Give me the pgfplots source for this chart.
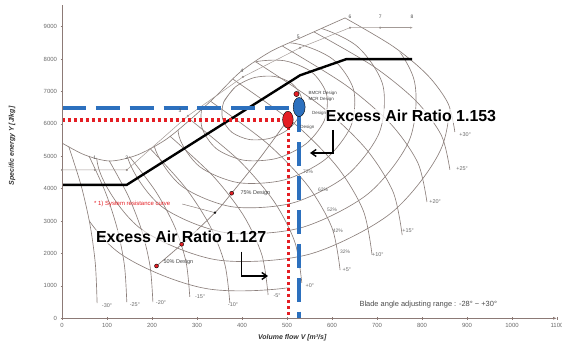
\documentclass[border=0pt]{standalone}
\usepackage{pgfplots}
\pgfplotsset{compat=1.18}
\usepackage{fontspec}
\setmainfont{Liberation Sans}
\usetikzlibrary{arrows.meta}
\definecolor{cgray}{RGB}{140,128,124}
\definecolor{axgray}{RGB}{140,122,118}
\definecolor{myred}{RGB}{228,30,36}
\definecolor{myblue}{RGB}{44,112,190}
\definecolor{tgray}{RGB}{105,105,105}
\begin{document}
\begin{tikzpicture}
\begin{axis}[
  scale only axis, width=495bp, height=313.3bp,
  xmin=0, xmax=1100, ymin=0, ymax=9670,
  axis x line=bottom, axis y line=left,
  axis line style={axgray, line width=0.8pt},
  x axis line style={-{Latex[length=4pt,width=3pt]}},
  y axis line style={-},
  xtick={0,100,...,1100}, ytick={0,1000,...,9000},
  tick style={axgray, line width=0.6pt},
  major tick length=3pt,
  ticklabel style={font=\fontsize{6}{7}\selectfont, text=tgray},
  /pgf/number format/assume math mode=true,
  /pgf/number format/1000 sep={},
  scaled ticks=false,
  xlabel={Volume flow V [m³/s]},
  ylabel={Specific energy Y [J/kg]},
  xlabel style={font=\fontsize{7}{8}\selectfont\bfseries\itshape, text=black!80, at={(axis description cs:0.465,-0.063)}, anchor=center},
  ylabel style={font=\fontsize{7}{8}\selectfont\bfseries\itshape, text=black!80, at={(axis description cs:-0.101,0.55)}, anchor=center},
  axis on top,
]
% efficiency contours
\addplot[cgray, line width=0.65pt, smooth] coordinates {(26.0,7000) (160.2,9426) (378.4,10948) (622.0,11148) (825.5,9976) (934.9,7747) (920.6,5056) (786.4,2630) (568.2,1108) (324.6,908) (121.1,2080) (11.7,4309) (26.0,7000) (160.2,9426)};
\addplot[cgray, line width=0.65pt, smooth] coordinates {(92.8,6921) (205.5,8959) (388.8,10238) (593.4,10406) (764.3,9421) (856.2,7549) (844.2,5289) (731.5,3251) (548.2,1972) (343.6,1804) (172.7,2789) (80.8,4661) (92.8,6921) (205.5,8959)};
\addplot[cgray, line width=0.65pt, smooth] coordinates {(155.1,6853) (247.7,8527) (398.2,9577) (566.3,9715) (706.7,8906) (782.2,7368) (772.3,5511) (679.7,3837) (529.2,2787) (361.1,2649) (220.7,3458) (145.2,4996) (155.1,6853) (247.7,8527)};
\addplot[cgray, line width=0.65pt, smooth] coordinates {(212.9,6795) (286.7,8129) (406.7,8966) (540.7,9076) (652.6,8431) (712.8,7205) (704.9,5725) (631.1,4391) (511.1,3554) (377.1,3444) (265.2,4089) (205.0,5315) (212.9,6795) (286.7,8129)};
\addplot[cgray, line width=0.65pt, smooth] coordinates {(266.1,6745) (322.5,7764) (414.1,8403) (516.5,8487) (601.9,7995) (647.9,7059) (641.9,5929) (585.5,4910) (493.9,4271) (391.5,4187) (306.1,4679) (260.1,5615) (266.1,6745) (322.5,7764)};
\addplot[cgray, line width=0.65pt, smooth] coordinates {(315.0,6706) (355.3,7433) (420.7,7890) (493.8,7950) (554.9,7598) (587.7,6930) (583.4,6122) (543.1,5395) (477.7,4938) (404.6,4878) (343.5,5230) (310.7,5898) (315.0,6706) (355.3,7433)};
\addplot[cgray, line width=0.65pt, smooth] coordinates {(359.4,6676) (384.9,7137) (426.4,7426) (472.7,7464) (511.3,7241) (532.1,6818) (529.4,6306) (503.9,5845) (462.4,5556) (416.1,5518) (377.5,5741) (356.7,6164) (359.4,6676) (384.9,7137)};
% white mask outside the map region
\addplot[fill=white, draw=none, even odd rule] coordinates {(-50,5410) (-50,-500) (1150,-500) (1150,10200) (-50,10200) (-50,5410)
 (0,5410) (51,5040) (107,4855) (167,5040) (229,5500) (284,6120) (340,6830) (396,7600) (462,8220) (529,8650) (629,9270)
 (736,8390) (812,7510) (858,6630) (873,5750)
 (862,4580) (811,3590) (756,2570) (689,1960) (618,1490) (533,1090) (458,720) (373,470) (284,660) (202,500) (144,500) (78,470)
 (74.1,1677) (62.3,2885) (42.6,4092) (15,5300) (0,5410)};
% outer contour
\addplot[cgray, line width=0.65pt, smooth] coordinates {(0,5410) (51,5040) (107,4855) (167,5040) (229,5500) (284,6120) (340,6830) (396,7600) (462,8220) (529,8650) (629,9270)};
% blade angle curves
\addplot[cgray, line width=0.65pt, smooth] coordinates {(15,5300) (42.6,4092) (62.3,2885) (74.1,1677) (78,470)};
\addplot[cgray, line width=0.65pt, smooth] coordinates {(60,5010) (96.8,3882) (123,2755) (138.8,1627) (144,500)};
\addplot[cgray, line width=0.65pt, smooth] coordinates {(105,4860) (147.4,3770) (177.8,2680) (195.9,1590) (202,500)};
\addplot[cgray, line width=0.65pt, smooth] coordinates {(150,4990) (208.6,3908) (250.5,2825) (275.6,1743) (284,660)};
\addplot[cgray, line width=0.65pt, smooth] coordinates {(195,5250) (272.9,4055) (328.5,2860) (361.9,1665) (373,470)};
\addplot[cgray, line width=0.65pt, smooth] coordinates {(240,5620) (335.4,4395) (403.5,3170) (444.4,1945) (458,720)};
\addplot[cgray, line width=0.65pt, smooth] coordinates {(285,6130) (393.5,4870) (471,3610) (517.5,2350) (533,1090)};
\addplot[cgray, line width=0.65pt, smooth] coordinates {(330,6700) (456,5398) (546,4095) (600,2793) (618,1490)};
\addplot[cgray, line width=0.65pt, smooth] coordinates {(380,7380) (515.2,6025) (611.8,4670) (669.7,3315) (689,1960)};
\addplot[cgray, line width=0.65pt, smooth] coordinates {(430,7920) (572.6,6583) (674.5,5245) (735.6,3908) (756,2570)};
\addplot[cgray, line width=0.65pt, smooth] coordinates {(490,8400) (630.4,7198) (730.8,5995) (790.9,4793) (811,3590)};
\addplot[cgray, line width=0.65pt, smooth] coordinates {(560,8840) (692.1,7775) (786.5,6710) (843.1,5645) (862,4580)};
\addplot[cgray, line width=0.65pt, smooth] coordinates {(629,9270) (736,8390) (812,7510) (858,6630) (873,5750)};
% stall line with points
\addplot[cgray!80, line width=0.5pt, mark=*, mark size=0.8pt, mark options={fill=black!70, draw=none}] coordinates {(0,4580) (73,4580) (144,4580) (280,6250) (402,7450) (529,8350) (640,8970) (707,8970)};
\addplot[cgray!80, line width=0.5pt, -{Latex[length=3pt,width=2pt]}] coordinates {(707,8970) (780,8970)};
% system resistance curve
\addplot[cgray, line width=0.7pt, smooth] coordinates {(210,1615) (266,2285) (340,3260) (377,3860) (440,4950) (502,6130)};
\addplot[cgray, line width=0.5pt] coordinates {(267,3528) (340,3260)};
\addplot[only marks, mark=*, mark size=2pt, mark options={fill=myred, draw=none}] coordinates {(210,1615) (266,2285) (377,3860)};
\addplot[only marks, mark=*, mark size=1pt, mark options={fill=black!80, draw=none}] coordinates {(340,3260)};
% fan limit line (black)
\addplot[black, line width=2.4pt] coordinates {(0,4120) (144,4120) (529,7500) (632,8000) (778,8000)};
% operating point lines
\addplot[myblue, line width=4pt, dash pattern=on 24pt off 10pt] coordinates {(0,6480) (527,6480) (527,0)};
\addplot[myred, line width=3.2pt, dash pattern=on 3pt off 3pt] coordinates {(0,6120) (503,6120) (503,0)};
\addplot[only marks, mark=*, mark size=6pt, mark options={fill=myblue, draw=none, yscale=1.6}] coordinates {(527,6520)};
\addplot[only marks, mark=*, mark size=5.3pt, mark options={fill=myred, draw=none, yscale=1.6}] coordinates {(502,6130)};
\addplot[only marks, mark=*, mark size=2.6pt, mark options={fill=myred, draw=none}] coordinates {(521,6923)};
% arrows
\addplot[black, line width=1.4pt, -{Straight Barb[length=5pt,width=7pt]}] coordinates {(602.2,5812) (602.2,5102) (551.1,5102)};
\addplot[black, line width=1.4pt, -{Straight Barb[length=5pt,width=7pt]}] coordinates {(399.3,2056) (399.3,1306) (457.8,1306)};
% texts
\node[anchor=west, font=\fontsize{16}{18}\selectfont\bfseries, fill=white, fill opacity=0.75, text opacity=1, inner sep=1pt] at (axis cs:584,6244) {Excess Air Ratio 1.153};
\node[anchor=west, font=\fontsize{16}{18}\selectfont\bfseries, fill=white, fill opacity=0.6, text opacity=1, inner sep=1pt] at (axis cs:73,2519) {Excess Air Ratio 1.127};
\node[font=\fontsize{7.5}{8}\selectfont, text=black!70] at (axis cs:814,410) {Blade angle adjusting range : -28° \textasciitilde{} +30°};
\node[font=\fontsize{6}{7}\selectfont, text=myred] at (axis cs:156,3528) {* 1) System resistance curve};
\node[anchor=west, font=\fontsize{5.5}{6}\selectfont, text=black!75] at (axis cs:389,3867) {75\% Design};
\node[anchor=west, font=\fontsize{5.5}{6}\selectfont, text=black!75] at (axis cs:218,1738) {50\% Design};
\node[anchor=west, font=\fontsize{4.5}{5}\selectfont, text=black!75] at (axis cs:540,6954) {BMCR Design};
\node[anchor=west, font=\fontsize{4.5}{5}\selectfont, text=black!75] at (axis cs:540,6769) {MCR Design};
\node[anchor=west, font=\fontsize{4.5}{5}\selectfont, text=black!75] at (axis cs:548,6336) {Design};
\node[anchor=west, font=\fontsize{4.5}{5}\selectfont, text=black!75] at (axis cs:522,5904) {Design};
% blade angle labels
\begin{scope}[every node/.style={font=\fontsize{5.5}{6}\selectfont, text=tgray}]
\node at (axis cs:100,385) {-30°};
\node at (axis cs:162,410) {-25°};
\node at (axis cs:220,472) {-20°};
\node at (axis cs:307,657) {-15°};
\node at (axis cs:380,410) {-10°};
\node at (axis cs:478,688) {-5°};
\node at (axis cs:551,997) {+0°};
\node at (axis cs:633,1491) {+5°};
\node at (axis cs:702,1954) {+10°};
\node at (axis cs:769,2694) {+15°};
\node at (axis cs:829,3590) {+20°};
\node at (axis cs:889,4608) {+25°};
\node at (axis cs:896,5657) {+30°};
\end{scope}
% efficiency labels
\begin{scope}[every node/.style={font=\fontsize{5}{6}\selectfont, text=tgray}]
\node at (axis cs:547,4515) {72\%};
\node at (axis cs:580,3960) {62\%};
\node at (axis cs:600,3343) {52\%};
\node at (axis cs:613,2694) {42\%};
\node at (axis cs:629,2046) {32\%};
\end{scope}
% stall point numbers
\begin{scope}[every node/.style={font=\fontsize{5}{6}\selectfont, text=black!70}]
\node at (axis cs:73,4950) {1};
\node at (axis cs:144,4950) {2};
\node at (axis cs:262,6420) {3};
\node at (axis cs:400,7650) {4};
\node at (axis cs:525,8700) {5};
\node at (axis cs:640,9300) {6};
\node at (axis cs:707,9300) {7};
\node at (axis cs:778,9300) {8};
\end{scope}
\end{axis}
\pgfresetboundingbox
\path[use as bounding box] ([shift={(-62bp,-28.7bp)}]current axis.south west) rectangle ([shift={(5bp,5bp)}]current axis.north east);
\end{tikzpicture}
\end{document}
